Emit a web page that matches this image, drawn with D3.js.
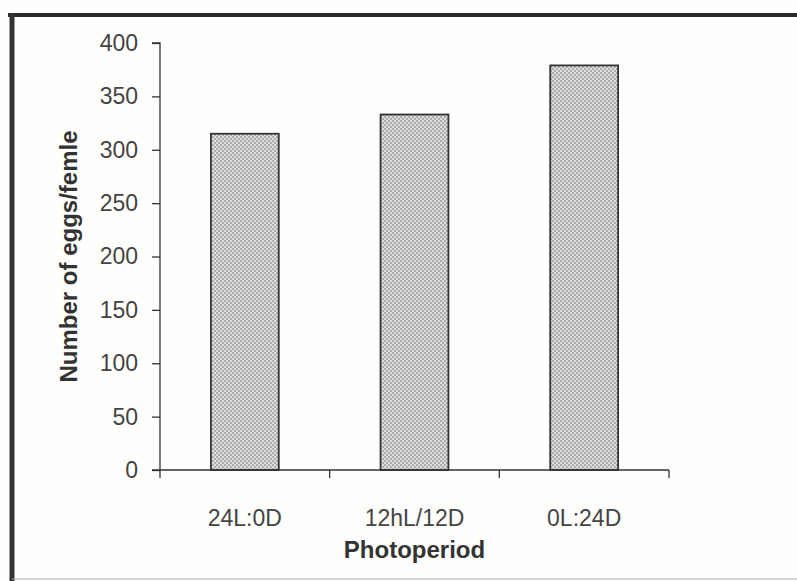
<!DOCTYPE html>
<html>
<head>
<meta charset="utf-8">
<style>
  html, body { margin: 0; padding: 0; background: #fff; }
  svg text { font-family: Arial, "Liberation Sans", sans-serif; }
  .tick text { fill: #444; font-size: 23px; }
  .axis-title { fill: #333; font-size: 24px; font-weight: bold; }
</style>
</head>
<body>
<svg width="797" height="581"></svg>
<script src="https://d3js.org/d3.v7.min.js"></script>
<script>
var categories = ['24L:0D', '12hL/12D', '0L:24D'];
var eggs = [315, 333, 379];
var yTicks = [0, 50, 100, 150, 200, 250, 300, 350, 400];

var margin = { left: 160, right: 128, top: 43, bottom: 111 };
var svg = d3.select('svg');
var width = 797, height = 581;

// page frame (scanned border)
svg.append('rect').attr('x', 0).attr('y', 0).attr('width', width).attr('height', height).attr('fill', '#fefefc');
svg.append('line').attr('x1', 8).attr('x2', width).attr('y1', 15).attr('y2', 15)
  .attr('stroke', '#2a2a28').attr('stroke-width', 4);
svg.append('line').attr('x1', 12).attr('x2', 12).attr('y1', 13).attr('y2', height)
  .attr('stroke', '#333').attr('stroke-width', 5);
svg.append('line').attr('x1', 12).attr('x2', width).attr('y1', 579).attr('y2', 579)
  .attr('stroke', '#aaa').attr('stroke-width', 1);

// dotted fill like the printed bars
var defs = svg.append('defs');
var pat = defs.append('pattern').attr('id', 'dots').attr('patternUnits', 'userSpaceOnUse')
  .attr('width', 4).attr('height', 4);
pat.append('rect').attr('width', 4).attr('height', 4).attr('fill', '#dedede');
pat.append('rect').attr('x', 0).attr('y', 0).attr('width', 2).attr('height', 2).attr('fill', '#acacac');
pat.append('rect').attr('x', 2).attr('y', 2).attr('width', 2).attr('height', 2).attr('fill', '#acacac');

var x = d3.scaleBand().domain(categories)
  .range([margin.left, width - margin.right]).paddingInner(0.6).paddingOuter(0.3);
var y = d3.scaleLinear().domain([0, 400]).range([height - margin.bottom, margin.top]);

var yAxis = svg.append('g').attr('transform', 'translate(' + margin.left + ',0)')
  .call(d3.axisLeft(y).tickValues(yTicks).tickSize(8).tickPadding(14));
yAxis.selectAll('path, line').attr('stroke', '#333').attr('stroke-width', 1.3);
yAxis.select('.domain').attr('d', 'M-8,' + y(400) + 'H0V' + y(0));

svg.selectAll('.bar').data(eggs).enter().append('rect')
  .attr('class', 'bar')
  .attr('x', function(d, i) { return x(categories[i]); })
  .attr('y', function(d) { return y(d); })
  .attr('width', x.bandwidth())
  .attr('height', function(d) { return y(0) - y(d); })
  .attr('fill', 'url(#dots)')
  .attr('stroke', '#333').attr('stroke-width', 1.8);

// x axis: ticks at category boundaries
var step = x.step();
var xAxisG = svg.append('g').attr('transform', 'translate(0,' + y(0) + ')');
xAxisG.append('line').attr('x1', margin.left - 8).attr('x2', width - margin.right)
  .attr('stroke', '#333').attr('stroke-width', 1.5);
var bounds = d3.range(categories.length + 1).map(function(i) { return margin.left + i * step; });
xAxisG.selectAll('.xt').data(bounds).enter().append('line')
  .attr('x1', function(d) { return d; }).attr('x2', function(d) { return d; })
  .attr('y1', 0).attr('y2', 8).attr('stroke', '#333').attr('stroke-width', 1.3);
xAxisG.selectAll('.xl').data(categories).enter().append('text')
  .attr('x', function(d) { return x(d) + x.bandwidth() / 2; })
  .attr('y', 56).attr('text-anchor', 'middle')
  .attr('fill', '#444').style('font-size', '23px')
  .text(function(d) { return d; });

svg.append('text').attr('class', 'axis-title')
  .attr('x', (margin.left + width - margin.right) / 2).attr('y', 558)
  .attr('text-anchor', 'middle').text('Photoperiod');
svg.append('text').attr('class', 'axis-title')
  .attr('transform', 'translate(77,' + ((y(0) + y(400)) / 2) + ') rotate(-90)')
  .attr('text-anchor', 'middle').text('Number of eggs/femle');
</script>
</body>
</html>
